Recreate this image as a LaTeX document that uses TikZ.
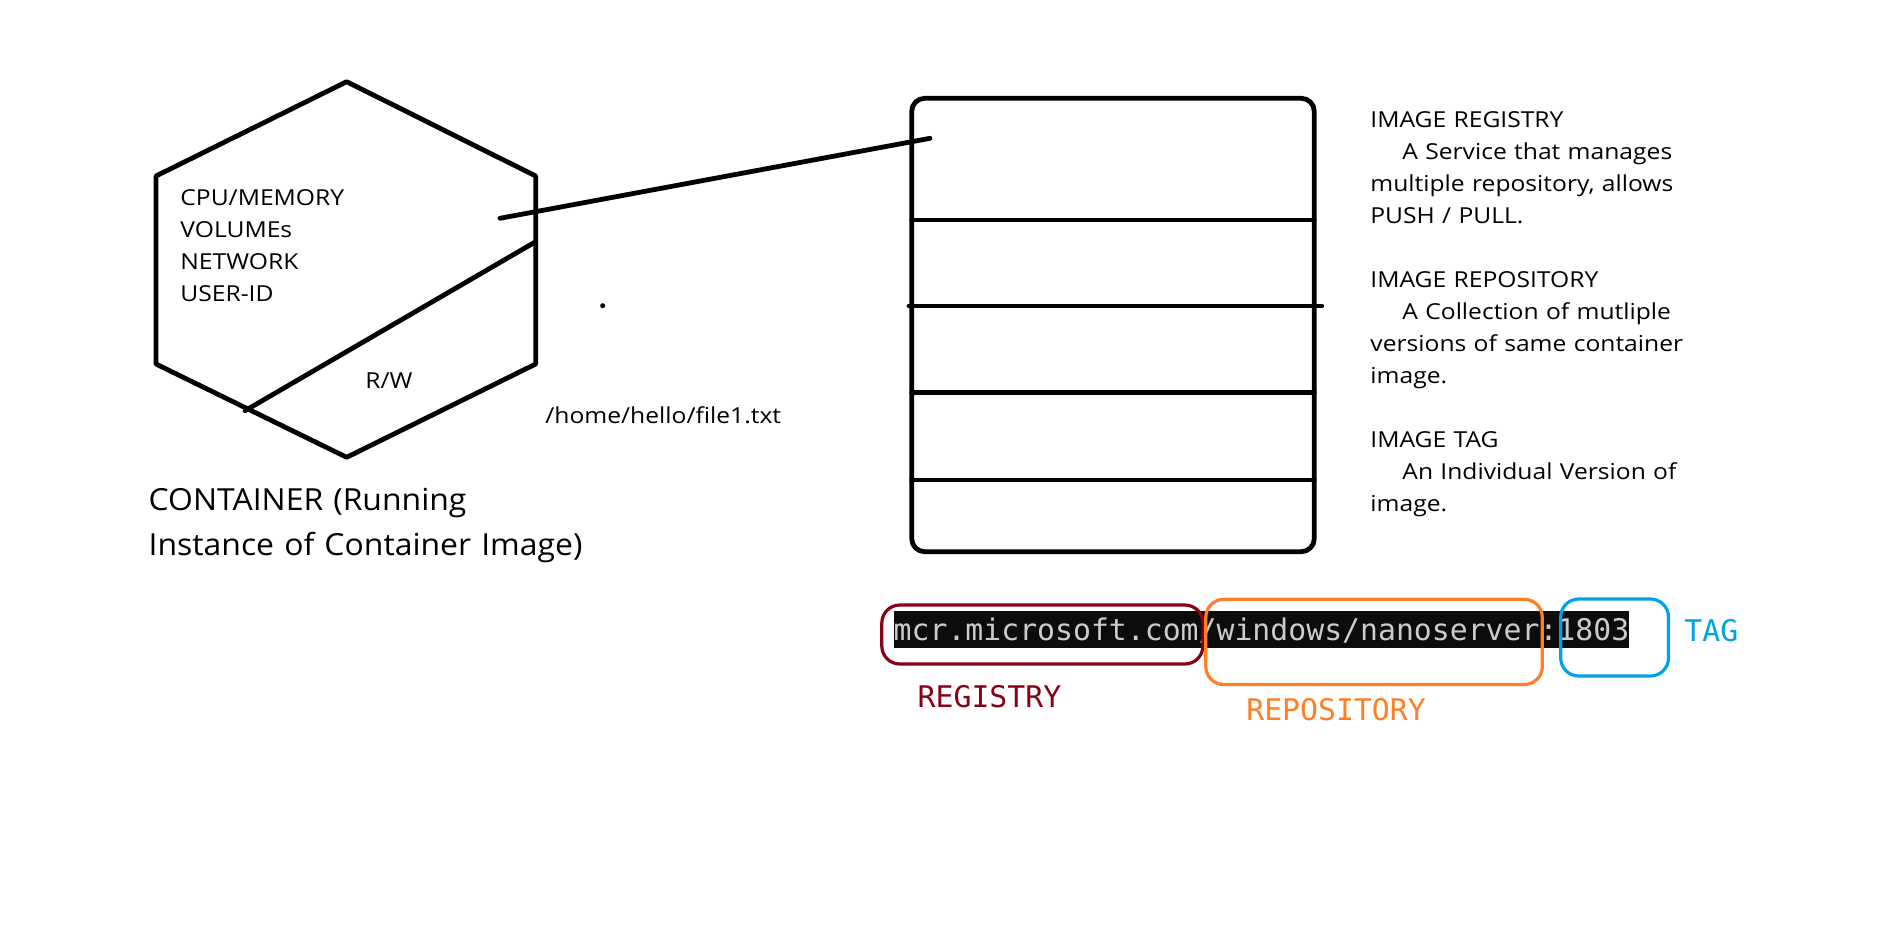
\documentclass[tikz,border=0pt]{standalone}
\usepackage{fontspec}
\setmainfont[FakeStretch = 1.12]{Open Sans}
\newfontfamily\captionfont[FakeStretch = 1.05]{Open Sans}
\newfontfamily\codefont{DejaVu Sans Mono}
\definecolor{paintred}{HTML}{880015}
\definecolor{paintorange}{HTML}{FF7F27}
\definecolor{paintblue}{HTML}{00A2E8}
\definecolor{consolebg}{HTML}{0C0C0C}
\definecolor{consolefg}{HTML}{CCCCCC}

\begin{document}
\begin{tikzpicture}[x = .5pt, y = -.5pt,
    pen/.style = {line width = 2.4pt, line cap = round, line join = round},
    marker/.style = {line width = 1.6pt, rounded corners = 9pt},
    txt/.style = {inner sep = 0, anchor = base west, align = left,
      text width = 250pt, font = \fontsize{11}{16}\selectfont},
    code/.style = {inner sep = 0, anchor = base west,
      font = \codefont\fontsize{14.9}{18}\selectfont}]
    \useasboundingbox (0,0) rectangle (1892,927);
    % container
    \draw [pen] (346.7,81.7) -- (535.7,176) -- (535.7,364)
    -- (346.7,457.3) -- (156,364) -- (156,176) -- cycle;
    \draw [pen] (245,410.7) -- (535.7,241.7);
    \node [txt] (hwlist) at (180,205.7)
    {CPU/MEMORY\\ VOLUMEs\\ NETWORK\\ USER-ID};
    \node [txt, text width = 60pt] (rw) at (365,388.3) {R/W};
    \node [txt] (rwpath) at (545,423.3) {/home/hello/file1.txt};
    \node [txt, font = \captionfont\fontsize{15.2}{22.5}\selectfont] (caption)
    at (148.3,510) {CONTAINER (Running\\ Instance of Container Image)};
    \fill (602.7,305.7) circle (1.25pt);
    % image layers
    \draw [pen, rounded corners = 6.5pt] (911.7,98.3) rectangle (1314.3,551.7);
    \foreach \y in {220, 392.3, 480} {
      \draw [pen] (911.7,\y) -- (1314.3,\y);
    }
    \draw [pen] (909,306) -- (1321.7,306);
    \coordinate (linkfrom) at (500,218.3);
    \coordinate (linkto) at (930,138.3);
    \draw [pen] (linkfrom) -- (linkto);
    % glossary
    \node [txt] (glossary) at (1370,127.7)
    {IMAGE REGISTRY\\
      \hspace*{16pt}A Service that manages\\
      multiple repository, allows\\
      PUSH / PULL.\\[16pt]
      IMAGE REPOSITORY\\
      \hspace*{16pt}A Collection of mutliple\\
      versions of same container\\
      image.\\[16pt]
      IMAGE TAG\\
      \hspace*{16pt}An Individual Version of\\
      image.};
    % image reference
    \node [code, fill = consolebg, text = consolefg, text height = 14.5pt,
    text depth = 3.75pt] (imgref) at (893.3,640)
    {mcr.microsoft.com/windows/nanoserver:1803};
    \draw [marker, paintred] (881.8,605) rectangle (1202.9,664);
    \draw [marker, paintorange] (1205.8,599.3) rectangle (1542.3,684.5);
    \draw [marker, paintblue] (1560.7,599) rectangle (1668.5,676);
    \node [code, text = paintred] (reglabel) at (917.3,707.3) {REGISTRY};
    \node [code, text = paintorange] (repolabel) at (1245.9,720) {REPOSITORY};
    \node [code, text = paintblue] (taglabel) at (1684,641.7) {TAG};
  \end{tikzpicture}
\end{document}
